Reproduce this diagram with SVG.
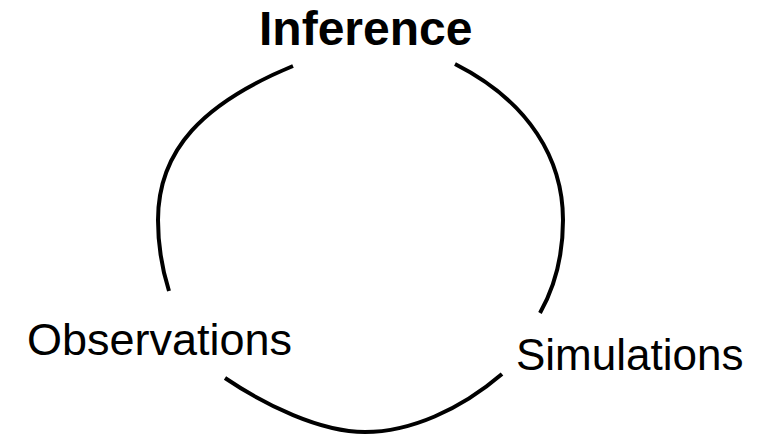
<svg xmlns="http://www.w3.org/2000/svg" width="772" height="435" viewBox="0 0 772 435">
  <style>
    .label { font-family: "Liberation Sans", Arial, Helvetica, sans-serif; font-size: 44px; fill: #000; }
    .title { font-weight: bold; font-size: 48px; }
    .obs { font-size: 45px; }
    .arc { fill: none; stroke: #000; stroke-width: 4; stroke-linecap: butt; }
  </style>
  <rect width="772" height="435" fill="#fff"/>

  <!-- cycle connectors -->
  <g id="connectors">
    <path class="arc" d="M293,66 C203,103 158,150 158,220 C158,250 163,272 169,291"/>
    <path class="arc" d="M455,64 C530,102 563,160 563,220 C563,260 553,290 540,313"/>
    <path class="arc" d="M225,378 C265,405 320,432 365,432 C410,432 460,410 502,374"/>
  </g>

  <g id="inference">
    <text class="label title" x="259" y="45">Inference</text>
  </g>
  <g id="observations">
    <text class="label obs" x="27" y="355">Observations</text>
  </g>
  <g id="simulations">
    <text class="label" x="516" y="370">Simulations</text>
  </g>
</svg>
